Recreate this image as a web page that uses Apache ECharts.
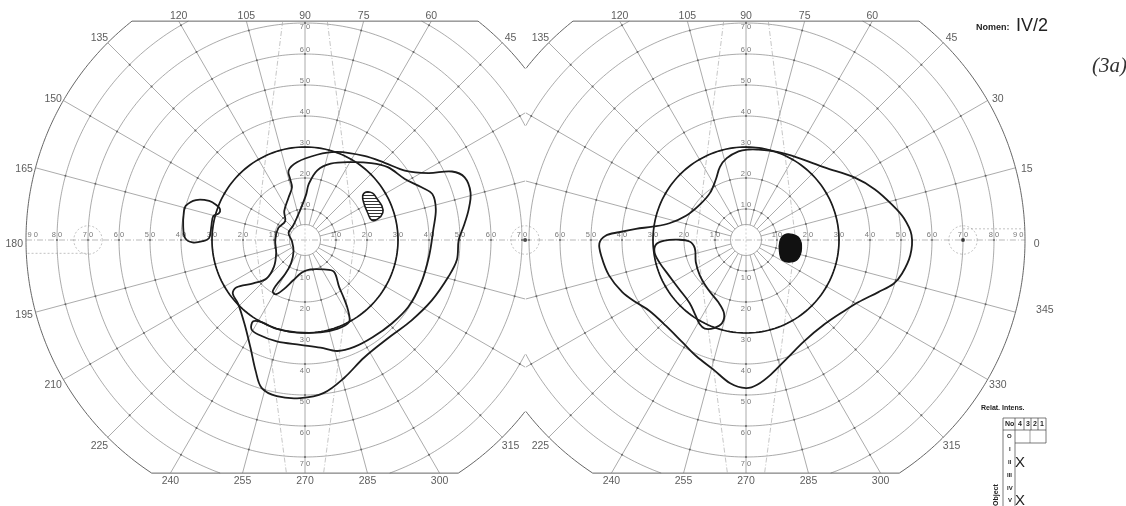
<!DOCTYPE html>
<html><head><meta charset="utf-8">
<script src="https://cdn.jsdelivr.net/npm/echarts/dist/echarts.min.js"></script>
<style>html,body{margin:0;padding:0;background:#fff}#c{width:1126px;height:506px}</style>
</head><body><div id="c"></div>
<script>
// ---------------- DATA (visual-field degrees; x = right, y = up) ----------------
const meridians = [0,15,30,45,60,75,90,105,120,135,150,165,180,195,210,225,240,255,270,285,300,315,330,345];
const rings = [5,10,20,30,40,50,60,70,80,90];
const ringLabelValues = [10,20,30,40,50,60,70,80,90];
const angleLabelsLeft  = [45,60,75,90,105,120,135,150,165,180,195,210,225,240,255,270,285,300,315];
const angleLabelsRight = [0,15,30,45,60,75,90,105,120,135,225,240,255,270,285,300,315,330,345];

// bold 30-degree isopter radius (each eye)
const boldRingLeft = 30;
const boldRingRight = 30;

// Left eye isopters
const leftOuter = [[-5.3,22.4],[-2.6,25.1],[3.9,27.5],[10.4,28.4],[19.1,27.1],[25.7,24.9],[32.2,22.4],[39.8,21.6],[47.4,22.1],[51.5,20.2],[53.4,15.3],[52.8,9.9],[51.2,4.5],[49.6,0.1],[49.0,-6.4],[46.3,-11.8],[40.9,-19.5],[34.3,-26.0],[27.8,-30.9],[19.1,-37.9],[12.6,-44.5],[6.1,-49.3],[-1.5,-51.0],[-9.1,-50.4],[-14.0,-47.7],[-15.9,-42.3],[-17.6,-34.7],[-19.5,-27.1],[-21.6,-20.5],[-23.3,-17.3],[-22.2,-15.3],[-16.7,-14.0],[-12.4,-12.4],[-10.0,-8.6],[-9.3,-4.2],[-9.6,0.1],[-8.6,3.9],[-6.4,6.1],[-6.7,9.3],[-5.3,13.7],[-4.2,17.0],[-4.8,19.7]];
const leftMiddle = [[1.2,18.0],[3.9,22.4],[8.3,24.6],[14.8,25.1],[21.3,24.8],[26.7,23.5],[32.2,19.7],[37.6,17.0],[41.1,14.8],[42.2,9.9],[41.4,3.4],[40.0,-5.3],[37.4,-14.0],[33.3,-21.6],[27.8,-27.1],[21.8,-31.4],[15.9,-34.5],[10.4,-35.8],[5.0,-34.7],[-1.5,-33.8],[-9.1,-32.7],[-15.1,-30.5],[-17.3,-28.7],[-16.7,-26.2],[-14.0,-26.5],[-9.1,-28.7],[-2.6,-29.8],[5.0,-29.8],[10.4,-28.7],[14.2,-26.5],[13.9,-22.7],[12.6,-18.9],[11.0,-15.1],[9.3,-10.2],[6.1,-9.5],[1.7,-9.5],[-1.0,-10.5],[-3.7,-12.9],[-7.0,-16.0],[-9.3,-17.5],[-10.4,-16.7],[-9.3,-14.6],[-6.4,-11.0],[-4.5,-7.5],[-3.7,-3.7],[-4.2,-0.4],[-5.3,2.3],[-3.9,4.5],[-2.6,7.2],[-1.0,11.0],[0.4,14.8]];
const leftIsland = [[-38.5,11.0],[-35.2,12.9],[-30.9,12.6],[-28.5,11.2],[-27.4,9.9],[-27.8,8.6],[-29.6,7.7],[-30.2,4.5],[-30.9,0.7],[-33.0,-0.4],[-36.3,-0.8],[-38.7,0.7],[-39.3,4.5],[-39.1,8.8]];
const leftScotoma = [[19.7,15.5],[21.8,15.1],[23.3,13.2],[24.8,11.0],[25.1,8.8],[23.5,6.8],[21.5,6.4],[20.2,8.8],[19.1,11.5],[18.6,14.2]];

// Right eye isopters
const rightOuter = [[3.6,29.2],[10.1,28.4],[16.6,26.6],[25.3,23.4],[35.1,20.1],[41.6,16.3],[47.1,11.4],[50.9,7.1],[53.4,1.6],[53.0,-4.9],[50.3,-10.9],[47.6,-14.1],[42.7,-16.8],[36.2,-20.1],[31.8,-22.8],[25.3,-27.2],[18.8,-32.6],[13.4,-38.0],[7.9,-43.5],[3.6,-46.7],[0,-47.8],[-5.1,-46.2],[-10.5,-41.8],[-16.0,-37.5],[-20.3,-33.2],[-25.8,-27.7],[-31.2,-22.8],[-35.5,-20.1],[-39.9,-16.8],[-44.2,-11.4],[-46.6,-5.4],[-47.3,-1.1],[-45.3,1.4],[-41.0,2.5],[-35.5,3.6],[-30.1,4.3],[-24.7,5.4],[-19.2,7.9],[-14.9,11.4],[-11.6,15.2],[-9.7,19.6],[-8.4,23.6],[-6.2,26.4],[-2.4,28.6],[0.9,29.2]];
const rightInner = [[-29.0,-1.4],[-26.3,-0.2],[-22.0,0.1],[-18.2,-0.5],[-16.5,-2.7],[-16.2,-7.1],[-14.9,-11.4],[-12.2,-16.0],[-8.9,-20.1],[-7.1,-23.6],[-7.7,-26.8],[-10.3,-28.4],[-13.3,-28.6],[-14.9,-27.2],[-16.2,-24.5],[-18.2,-20.3],[-21.6,-15.8],[-24.9,-11.4],[-27.9,-7.3],[-29.5,-4.0]];
const rightScotoma = [[12.3,1.6],[15.0,1.8],[17.2,0.5],[17.9,-2.7],[16.8,-6.0],[14.5,-7.1],[11.7,-6.5],[10.8,-3.8],[10.9,-0.5]];

// ---------------- FORM GEOMETRY (chart frame, degrees) ----------------
const TOP = 70.6, BOT = -75.2, MID = 71.0;
const D2R = Math.PI / 180;
function xy(r, th) { return [r * Math.cos(th * D2R), r * Math.sin(th * D2R)]; }
function toPolar(p) { let a = Math.atan2(p[1], p[0]) / D2R; if (a < 0) a += 360; return [Math.hypot(p[0], p[1]), a]; }
function inside(side, r, th) {
  const [x, y] = xy(r, th), e = 1e-7;
  if (r > 90 + e || y > TOP + e || y < BOT - e) return false;
  if (side === 'L' && x > MID + e) return false;
  if (side === 'R' && x < -MID - e) return false;
  return true;
}
function bisect(side, r, outA, inB) {
  for (let i = 0; i < 40; i++) { const m = (outA + inB) / 2; if (inside(side, r, m)) inB = m; else outA = m; }
  return inB;
}
function ringSegments(side, r, step) {
  const segs = []; let cur = null, prev = null;
  for (let k = 0; k * step <= 360 + 1e-9; k++) {
    const th = k * step; const inn = inside(side, r, th);
    if (inn) { if (!cur) { cur = []; if (prev !== null) cur.push([r, bisect(side, r, prev, th)]); } cur.push([r, th]); }
    else if (cur) { cur.push([r, bisect(side, r, th, prev)]); segs.push(cur); cur = null; }
    prev = th;
  }
  if (cur) segs.push(cur);
  if (segs.length > 1 && segs[0][0][1] === 0 && segs[segs.length - 1][segs[segs.length - 1].length - 1][1] >= 360 - 1e-9) {
    const last = segs.pop(); segs[0] = last.concat(segs[0]);
  }
  return segs;
}
function rEnd(side, th) {
  const c = Math.cos(th * D2R), s = Math.sin(th * D2R); let r = 90;
  if (s > 1e-9) r = Math.min(r, TOP / s);
  if (s < -1e-9) r = Math.min(r, BOT / s);
  if (side === 'L' && c > 1e-9) r = Math.min(r, MID / c);
  if (side === 'R' && c < -1e-9) r = Math.min(r, -MID / c);
  return r;
}
function endKind(side, th) {
  const s = Math.sin(th * D2R), r = rEnd(side, th);
  if (s > 1e-9 && Math.abs(r - TOP / s) < 1e-6 && r < 90 - 1e-6) return 'top';
  if (s < -1e-9 && Math.abs(r - BOT / s) < 1e-6 && r < 90 - 1e-6) return 'bottom';
  return 'arc';
}

// ---------------- SERIES ----------------
const series = [];
const GRID = '#7d7d7d', INK = '#1c1c1c', FONT = '"Liberation Sans", Arial, sans-serif';
function line(pi, data, style, z) {
  series.push({ type: 'line', coordinateSystem: 'polar', polarIndex: pi, data, symbol: 'none', silent: true, animation: false, z: z || 1, lineStyle: style });
}
function poly(pi, pts, style, smooth) {
  const pd = pts.map(toPolar);
  series.push({ type: 'custom', coordinateSystem: 'polar', polarIndex: pi, data: [pd[0]], silent: true, animation: false, z: 5,
    renderItem: (params, api) => ({ type: 'polygon', shape: { points: pd.map(p => api.coord(p)), smooth: smooth }, style: style }) });
}
const dashStyle = { color: '#9a9a9a', width: 0.6, type: [2, 2] };
const dashDot = { color: '#a0a0a0', width: 0.6, type: [5, 2, 1, 2] };
function dashedCircle(pi, cx, cy, rad) {
  const pts = []; for (let a = 0; a <= 360; a += 6) pts.push(toPolar([cx + rad * Math.cos(a * D2R), cy + rad * Math.sin(a * D2R)]));
  line(pi, pts, dashStyle);
}
// label nudges (pixels) where the printed form places a meridian number off the regular spot
const labelNudgeRight = { 345: [18, -5] };

function buildForm(pi, side, boldR, angleLabels, hLabelsNeg, hLabelsPos, nudge) {
  rings.forEach(r => {
    ringSegments(side, r, r >= 75 ? 0.25 : 1).forEach(seg => line(pi, seg, { color: r === 90 ? '#555' : GRID, width: r === 90 ? 0.9 : 0.65 }));
  });
  const at = Math.asin(TOP / 90) / D2R, ab = Math.asin(-BOT / 90) / D2R;
  line(pi, [[90, at], [90, 180 - at]], { color: '#555', width: 0.9 });
  line(pi, [[90, 180 + ab], [90, 360 - ab]], { color: '#555', width: 0.9 });
  meridians.forEach(th => {
    if (th === 0 || th === 180) return;
    line(pi, [[5, th], [rEnd(side, th), th]], { color: GRID, width: 0.65 });
  });
  line(pi, [[rEnd(side, 180), 180], [rEnd(side, 0), 0]], { color: '#8a8a8a', width: 0.6, type: [6, 2, 1, 2] });
  line(pi, [[5, 90], [5, 270]], { color: '#9a9a9a', width: 0.5, type: [2, 2] });
  [-1, 1].forEach(sg => line(pi, [toPolar([sg * 7.2, TOP]), toPolar([sg * 16, 0]), toPolar([sg * 6, BOT])], dashDot));
  const dots = [];
  ringLabelValues.forEach(r => meridians.forEach(th => { if (r < 90 && inside(side, r, th)) dots.push([r, th]); }));
  series.push({ type: 'scatter', coordinateSystem: 'polar', polarIndex: pi, data: dots, symbol: 'circle', symbolSize: 2, silent: true, animation: false, itemStyle: { color: '#555' }, z: 2 });
  ringSegments(side, boldR, 1).forEach(seg => line(pi, seg, { color: INK, width: 1.7 }, 4));
  // ring labels
  const lab = [];
  const txt = v => String(v / 10) + ' 0';
  hLabelsNeg.forEach(v => lab.push({ value: [v, 180], label: v === 90 ? { position: 'right', distance: 1, offset: [0, -5], formatter: txt(v) } : { position: 'top', distance: 1, formatter: txt(v) } }));
  hLabelsPos.forEach(v => lab.push({ value: [v, 0], label: v === 90 ? { position: 'left', distance: 1, offset: [0, -5], formatter: txt(v) } : { position: 'top', distance: 1, formatter: txt(v) } }));
  ringLabelValues.filter(v => v <= 70).forEach(v => {
    lab.push({ value: [v, 90], label: { position: v === 70 ? 'bottom' : 'top', distance: v === 70 ? -1 : 0, formatter: txt(v) } });
    lab.push({ value: [v, 270], label: { position: 'bottom', distance: 2, formatter: txt(v) } });
  });
  series.push({ type: 'scatter', coordinateSystem: 'polar', polarIndex: pi, data: lab, symbolSize: 1, silent: true, animation: false, z: 3,
    itemStyle: { color: 'rgba(0,0,0,0)' }, label: { show: true, fontSize: 7.5, color: '#555', fontFamily: FONT } });
  // angle (meridian) labels
  const al = angleLabels.map(th => {
    const k = endKind(side, th), r = rEnd(side, th);
    if (k === 'top') return { value: [r, th], label: { position: 'top', distance: -1, formatter: String(th) } };
    if (k === 'bottom') return { value: [r, th], label: { position: 'bottom', distance: 2, formatter: String(th) } };
    const upper = Math.sin(th * D2R) > -1e-9;
    const off = (nudge && nudge[th]) || [0, upper ? 4 : 0];
    return { value: [r + 3.8, th], label: { position: 'inside', offset: off, formatter: String(th) } };
  });
  series.push({ type: 'scatter', coordinateSystem: 'polar', polarIndex: pi, data: al, symbolSize: 1, silent: true, animation: false, z: 3,
    itemStyle: { color: 'rgba(0,0,0,0)' }, label: { show: true, fontSize: 10.5, color: '#333', fontFamily: FONT } });
}

buildForm(0, 'L', boldRingLeft, angleLabelsLeft, [10,20,30,40,50,60,70,80,90], [10,20,30,40,50,60,70], null);
buildForm(1, 'R', boldRingRight, angleLabelsRight, [10,20,30,40,50,60], [10,20,30,40,50,60,70,80,90], labelNudgeRight);

// 70-degree markers (dashed rings and strips on the horizontal meridian)
dashedCircle(0, 71, 0, 4.6);
dashedCircle(0, -70, 0, 4.6);
dashedCircle(1, 70, 0, 4.6);
line(0, [toPolar([-89.5, -4.3]), toPolar([-70, -4.3])], dashStyle);
line(1, [toPolar([70, 3.6]), toPolar([89.5, 3.6])], dashStyle);
series.push({ type: 'scatter', coordinateSystem: 'polar', polarIndex: 0, data: [[71, 0]], symbolSize: 4, itemStyle: { color: '#222' }, silent: true, animation: false });
series.push({ type: 'scatter', coordinateSystem: 'polar', polarIndex: 1, data: [[70, 0]], symbolSize: 4, itemStyle: { color: '#222' }, silent: true, animation: false });

// hatch pattern for the relative scotoma
const hc = document.createElement('canvas'); hc.width = 4; hc.height = 3;
const hg = hc.getContext('2d'); hg.fillStyle = '#fff'; hg.fillRect(0, 0, 4, 3); hg.fillStyle = '#333'; hg.fillRect(0, 0, 4, 1);

const isoStyle = { fill: 'none', stroke: INK, lineWidth: 1.8 };
poly(0, leftOuter, isoStyle, 0.35);
poly(0, leftMiddle, isoStyle, 0.35);
poly(0, leftIsland, isoStyle, 0.35);
poly(0, leftScotoma, { fill: { image: hc, repeat: 'repeat' }, stroke: INK, lineWidth: 1.6 }, 0.4);
poly(1, rightOuter, isoStyle, 0.35);
poly(1, rightInner, isoStyle, 0.35);
poly(1, rightScotoma, { fill: '#111', stroke: '#111', lineWidth: 1.2 }, 0.45);

// ---------------- TEXT / TABLE ----------------
const T = (x, y, text, size, weight, family) => ({ type: 'text', x, y, style: { text, fontSize: size, fontWeight: weight || 'normal', fontFamily: family || FONT, fill: '#222' } });
const L = (x1, y1, x2, y2, w) => ({ type: 'line', shape: { x1, y1, x2, y2 }, style: { stroke: '#444', lineWidth: w || 0.7 } });
const graphic = [
  T(976, 23, 'Nomen:', 9, 'bold'),
  T(1016, 17, 'IV/2', 18, 'normal', '"Liberation Sans", sans-serif'),
  { type: 'text', x: 1092, y: 56, style: { text: '(3a)', fontSize: 21, fontStyle: 'italic', fontFamily: '"Liberation Serif", serif', fill: '#333' } },
  T(981, 405, 'Relat. Intens.', 7, 'bold'),
  L(1003, 418, 1046, 418), L(1003, 418, 1003, 506), L(1015, 418, 1015, 506), L(1046, 418, 1046, 443),
  L(1003, 430, 1046, 430), L(1015, 443, 1046, 443), L(1024, 418, 1024, 430), L(1031, 418, 1031, 430), L(1038, 418, 1038, 430),
  L(1030, 430, 1030, 443, 0.5),
  T(1005, 421, 'No', 7, 'bold'), T(1018, 421, '4', 7, 'bold'), T(1026, 421, '3', 7, 'bold'),
  T(1033, 421, '2', 7, 'bold'), T(1040, 421, '1', 7, 'bold'),
  T(1007, 433, 'O', 6, 'bold'), T(1009, 446, 'I', 6, 'bold'), T(1008, 459, 'II', 6, 'bold'),
  T(1007, 472, 'III', 6, 'bold'), T(1007, 485, 'IV', 6, 'bold'), T(1008, 497, 'V', 6, 'bold'),
  T(1015, 455, 'X', 15), T(1015, 493, 'X', 15),
  { type: 'text', x: 993, y: 506, rotation: Math.PI / 2, style: { text: 'Object', fontSize: 7, fontWeight: 'bold', fontFamily: FONT, fill: '#222' } }
];

const RMAX = 100, PX_PER_DEG = 3.1;
const chart = echarts.init(document.getElementById('c'), null, { renderer: 'canvas' });
chart.setOption({
  backgroundColor: '#fff',
  animation: false,
  polar: [{ center: [305, 240], radius: RMAX * PX_PER_DEG }, { center: [746, 240], radius: RMAX * PX_PER_DEG }],
  angleAxis: [0, 1].map(i => ({ polarIndex: i, type: 'value', min: 0, max: 360, startAngle: 0, clockwise: false, show: false })),
  radiusAxis: [0, 1].map(i => ({ polarIndex: i, type: 'value', min: 0, max: RMAX, show: false })),
  series,
  graphic
});
</script></body></html>
